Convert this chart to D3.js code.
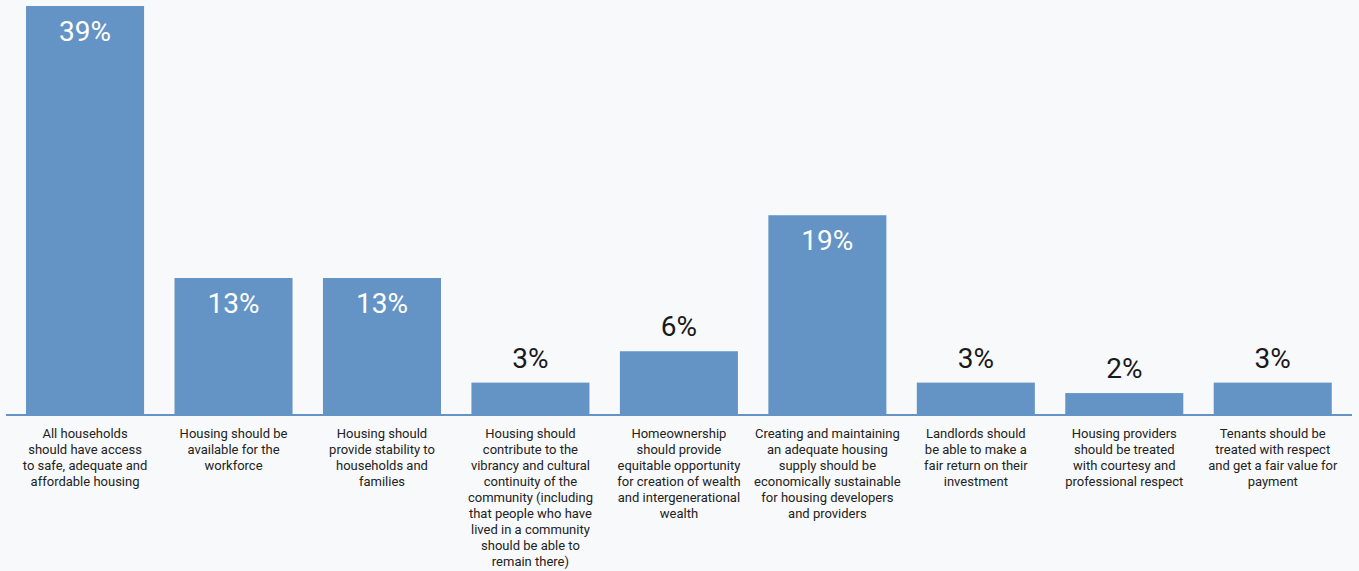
<!DOCTYPE html>
<html>
<head>
<meta charset="utf-8">
<script src="https://cdn.jsdelivr.net/npm/d3@7"></script>
<style>
  html, body { margin: 0; padding: 0; background: #f8f9fa; }
  svg { display: block; }
  text { font-family: Roboto, "Noto Sans", sans-serif; }
</style>
</head>
<body>
<svg id="chart" width="1359" height="571"></svg>
<script>
// Share of respondents choosing each housing principle
const categories = [
  ["All households", "should have access", "to safe, adequate and", "affordable housing"],
  ["Housing should be", "available for the", "workforce"],
  ["Housing should", "provide stability to", "households and", "families"],
  ["Housing should", "contribute to the", "vibrancy and cultural", "continuity of the", "community (including", "that people who have", "lived in a community", "should be able to", "remain there)"],
  ["Homeownership", "should provide", "equitable opportunity", "for creation of wealth", "and intergenerational", "wealth"],
  ["Creating and maintaining", "an adequate housing", "supply should be", "economically sustainable", "for housing developers", "and providers"],
  ["Landlords should", "be able to make a", "fair return on their", "investment"],
  ["Housing providers", "should be treated", "with courtesy and", "professional respect"],
  ["Tenants should be", "treated with respect", "and get a fair value for", "payment"]
];
const values = [39, 13, 13, 3, 6, 19, 3, 2, 3];

const barColor = "#6394c5";
const svg = d3.select("#chart");

const baseline = 414;
const x = d3.scaleBand()
  .domain(d3.range(values.length))
  .range([11.2, 1346.6])
  .paddingInner(0.205)
  .paddingOuter(0.1);

const y = d3.scaleLinear()
  .domain([0, 39])
  .range([baseline, 6]);

// bars
svg.append("g").selectAll("rect")
  .data(values)
  .join("rect")
  .attr("x", (d, i) => x(i))
  .attr("y", d => y(d))
  .attr("width", x.bandwidth())
  .attr("height", d => baseline - y(d))
  .attr("fill", barColor);

// baseline rule
svg.append("line")
  .attr("x1", 6).attr("x2", 1352)
  .attr("y1", baseline + 1).attr("y2", baseline + 1)
  .attr("stroke", barColor)
  .attr("stroke-width", 2);

// value labels: inside tall bars, above short ones
svg.append("g").selectAll("text")
  .data(values)
  .join("text")
  .attr("x", (d, i) => x(i) + x.bandwidth() / 2)
  .attr("y", d => d >= 10 ? y(d) + 35 : y(d) - 15)
  .attr("text-anchor", "middle")
  .attr("font-size", 28)
  .attr("font-weight", 400)
  .attr("fill", d => d >= 10 ? "#ffffff" : "#1a1a1a")
  .text(d => d + "%");

// category labels
const labels = svg.append("g").selectAll("text")
  .data(categories)
  .join("text")
  .attr("x", (d, i) => x(i) + x.bandwidth() / 2)
  .attr("y", 438)
  .attr("text-anchor", "middle")
  .attr("font-size", 13)
  .attr("fill", "#222222");

labels.selectAll("tspan")
  .data((d, i) => d.map(line => ({ line, cx: x(i) + x.bandwidth() / 2 })))
  .join("tspan")
  .attr("x", d => d.cx)
  .attr("dy", (d, j) => j === 0 ? 0 : 16)
  .text(d => d.line);
</script>
</body>
</html>
